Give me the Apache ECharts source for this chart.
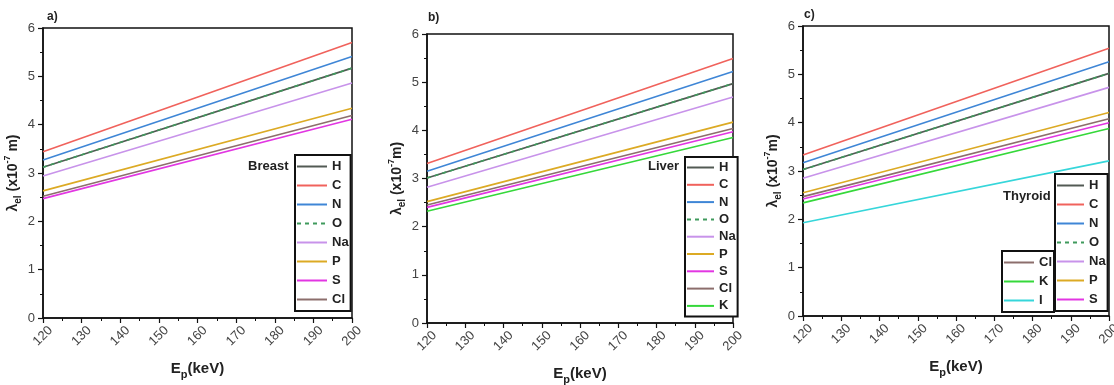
<!DOCTYPE html>
<html>
<head>
<meta charset="utf-8">
<script src="https://cdn.jsdelivr.net/npm/echarts@6/dist/echarts.min.js"></script>
<style>
  html, body { margin: 0; padding: 0; background: #fff; }
  #chart { width: 1114px; height: 385px; }
</style>
</head>
<body>
<div id="chart"></div>
<script>
// Electron wavelength vs. proton energy for three tissues
const energies = [120, 200];                 // keV, ends of each line
const xTicks = [120, 130, 140, 150, 160, 170, 180, 190, 200];
const yTicks = [0, 1, 2, 3, 4, 5, 6];

// Breast (panel a)
const breastH  = [3.12, 5.17];
const breastC  = [3.44, 5.70];
const breastN  = [3.27, 5.41];
const breastO  = [3.12, 5.17];
const breastNa = [2.94, 4.86];
const breastP  = [2.63, 4.34];
const breastS  = [2.47, 4.11];
const breastCl = [2.52, 4.19];

// Liver (panel b)
const liverH  = [3.01, 4.97];
const liverC  = [3.31, 5.49];
const liverN  = [3.15, 5.22];
const liverO  = [3.01, 4.97];
const liverNa = [2.82, 4.69];
const liverP  = [2.52, 4.17];
const liverS  = [2.40, 3.97];
const liverCl = [2.45, 4.04];
const liverK  = [2.32, 3.85];

// Thyroid (panel c)
const thyroidH  = [3.03, 5.02];
const thyroidC  = [3.33, 5.54];
const thyroidN  = [3.17, 5.26];
const thyroidO  = [3.03, 5.02];
const thyroidNa = [2.85, 4.73];
const thyroidP  = [2.55, 4.21];
const thyroidS  = [2.42, 4.00];
const thyroidCl = [2.47, 4.08];
const thyroidK  = [2.34, 3.88];
const thyroidI  = [1.93, 3.21];

const panels = [
  { label: 'a)', tissue: 'Breast', series: [
    ['H', breastH], ['C', breastC], ['N', breastN], ['O', breastO],
    ['Na', breastNa], ['P', breastP], ['S', breastS], ['Cl', breastCl]] },
  { label: 'b)', tissue: 'Liver', series: [
    ['H', liverH], ['C', liverC], ['N', liverN], ['O', liverO],
    ['Na', liverNa], ['P', liverP], ['S', liverS], ['Cl', liverCl], ['K', liverK]] },
  { label: 'c)', tissue: 'Thyroid', series: [
    ['H', thyroidH], ['C', thyroidC], ['N', thyroidN], ['O', thyroidO],
    ['Na', thyroidNa], ['P', thyroidP], ['S', thyroidS], ['Cl', thyroidCl],
    ['K', thyroidK], ['I', thyroidI]] }
];

const FONT = '"Liberation Sans", Arial, sans-serif';
const elementStyle = {
  H:  { color: '#525a54' },
  C:  { color: '#f0625c' },
  N:  { color: '#3f86d6' },
  O:  { color: '#3f9a5c', type: [4, 4] },
  Na: { color: '#c893ea' },
  P:  { color: '#dcaa24' },
  S:  { color: '#e236e2' },
  Cl: { color: '#8c6e6c' },
  K:  { color: '#35d83a' },
  I:  { color: '#36d6da' }
};

const grids = [
  { left: 43,  top: 28, width: 309, height: 290 },
  { left: 427, top: 34, width: 306, height: 289 },
  { left: 803, top: 26, width: 306, height: 290 }
];

const yNameRich = {
  b:   { fontFamily: FONT, fontSize: 14, fontWeight: 'bold', color: '#222', lineHeight: 20 },
  sub: { fontFamily: FONT, fontSize: 10, fontWeight: 'bold', color: '#222', lineHeight: 20, verticalAlign: 'bottom' },
  sup: { fontFamily: FONT, fontSize: 9,  fontWeight: 'bold', color: '#222', lineHeight: 20, verticalAlign: 'top' }
};
const xNameRich = {
  b:   { fontFamily: FONT, fontSize: 15, fontWeight: 'bold', color: '#222', lineHeight: 22 },
  sub: { fontFamily: FONT, fontSize: 11, fontWeight: 'bold', color: '#222', lineHeight: 22, verticalAlign: 'bottom' }
};
const yNames = [
  '{b|λ}{sub|el}{b| (x10}{sup|-7}{b| m)}',
  '{b|λ}{sub|el}{b| (x10}{sup|-7}{b|m)}',
  '{b|λ}{sub|el}{b| (x10}{sup|-7}{b|m)}'
];

const xAxes = [], yAxes = [], series = [];
grids.forEach((g, i) => {
  xAxes.push({
    type: 'value', gridIndex: i, min: 120, max: 200, interval: 10,
    name: '{b|E}{sub|p}{b|(keV)}', nameLocation: 'middle', nameGap: 40,
    nameTextStyle: { rich: xNameRich },
    axisLine: { show: true, onZero: false, lineStyle: { color: '#111', width: 1.5 } },
    axisTick: { show: true, length: 5, lineStyle: { color: '#111', width: 1.2 } },
    minorTick: { show: true, splitNumber: 2, length: 3, lineStyle: { color: '#111', width: 1 } },
    splitLine: { show: false },
    axisLabel: {
      rotate: 45, align: 'center', verticalAlign: 'middle', margin: 18,
      fontFamily: FONT, fontSize: 13, color: '#444',
      customValues: xTicks
    }
  });
  yAxes.push({
    type: 'value', gridIndex: i, min: 0, max: 6, interval: 1,
    name: yNames[i], nameLocation: 'middle', nameGap: 20,
    nameTextStyle: { rich: yNameRich },
    axisLine: { show: true, onZero: false, lineStyle: { color: '#111', width: 1.5 } },
    axisTick: { show: true, length: 5, lineStyle: { color: '#111', width: 1.2 } },
    minorTick: { show: true, splitNumber: 2, length: 3, lineStyle: { color: '#111', width: 1 } },
    splitLine: { show: false },
    axisLabel: { margin: 8, fontFamily: FONT, fontSize: 13, color: '#444', customValues: yTicks }
  });
  panels[i].series.forEach(([name, vals]) => {
    const st = elementStyle[name];
    series.push({
      type: 'line', name: name, xAxisIndex: i, yAxisIndex: i,
      symbol: 'none', silent: true, animation: false,
      color: st.color,
      lineStyle: { color: st.color, width: 1.6, type: st.type || 'solid' },
      data: energies.map((e, k) => [e, vals[k]])
    });
  });
});

const legendBase = {
  orient: 'vertical', selectedMode: false,
  itemHeight: 13, itemGap: 6, itemWidth: 30,
  borderColor: '#111', borderWidth: 2, backgroundColor: '#fff',
  textStyle: { fontFamily: FONT, fontSize: 13, fontWeight: 'bold', color: '#222', lineHeight: 13 },
  itemStyle: { opacity: 0 }
};
const legends = [
  Object.assign({}, legendBase, { left: 295, top: 155, padding: [5, 2, 5, 1],
    data: ['H', 'C', 'N', 'O', 'Na', 'P', 'S', 'Cl'] }),
  Object.assign({}, legendBase, { left: 685, top: 157, padding: [4, 2, 4, 1], itemGap: 4.3, itemWidth: 27,
    data: ['H', 'C', 'N', 'O', 'Na', 'P', 'S', 'Cl', 'K'] }),
  Object.assign({}, legendBase, { left: 1055, top: 174, padding: [5, 2, 5, 1], itemWidth: 27,
    data: ['H', 'C', 'N', 'O', 'Na', 'P', 'S'] }),
  Object.assign({}, legendBase, { left: 1002, top: 251, padding: [5, 2, 5, 1],
    data: ['Cl', 'K', 'I'] })
];

const textStyleBold = { fontFamily: FONT, fontSize: 13, fontWeight: 'bold', fill: '#222' };
const graphics = [
  { type: 'text', left: 47, top: 11, style: Object.assign({ text: 'a)' }, textStyleBold, { fontSize: 12 }) },
  { type: 'text', left: 428, top: 12, style: Object.assign({ text: 'b)' }, textStyleBold, { fontSize: 12 }) },
  { type: 'text', left: 804, top: 9, style: Object.assign({ text: 'c)' }, textStyleBold, { fontSize: 12 }) },
  { type: 'text', left: 248, top: 160, style: Object.assign({ text: 'Breast' }, textStyleBold) },
  { type: 'text', left: 648, top: 160, style: Object.assign({ text: 'Liver' }, textStyleBold) },
  { type: 'text', left: 1003, top: 190, style: Object.assign({ text: 'Thyroid' }, textStyleBold) }
];

const chart = echarts.init(document.getElementById('chart'), null, { renderer: 'canvas' });
chart.setOption({
  animation: false,
  backgroundColor: '#fff',
  grid: grids.map(g => Object.assign({
    show: true, borderColor: '#111', borderWidth: 1.5, backgroundColor: 'transparent',
    containLabel: false, outerBoundsMode: 'none'
  }, g)),
  xAxis: xAxes,
  yAxis: yAxes,
  legend: legends,
  series: series,
  graphic: graphics
});
</script>
</body>
</html>
